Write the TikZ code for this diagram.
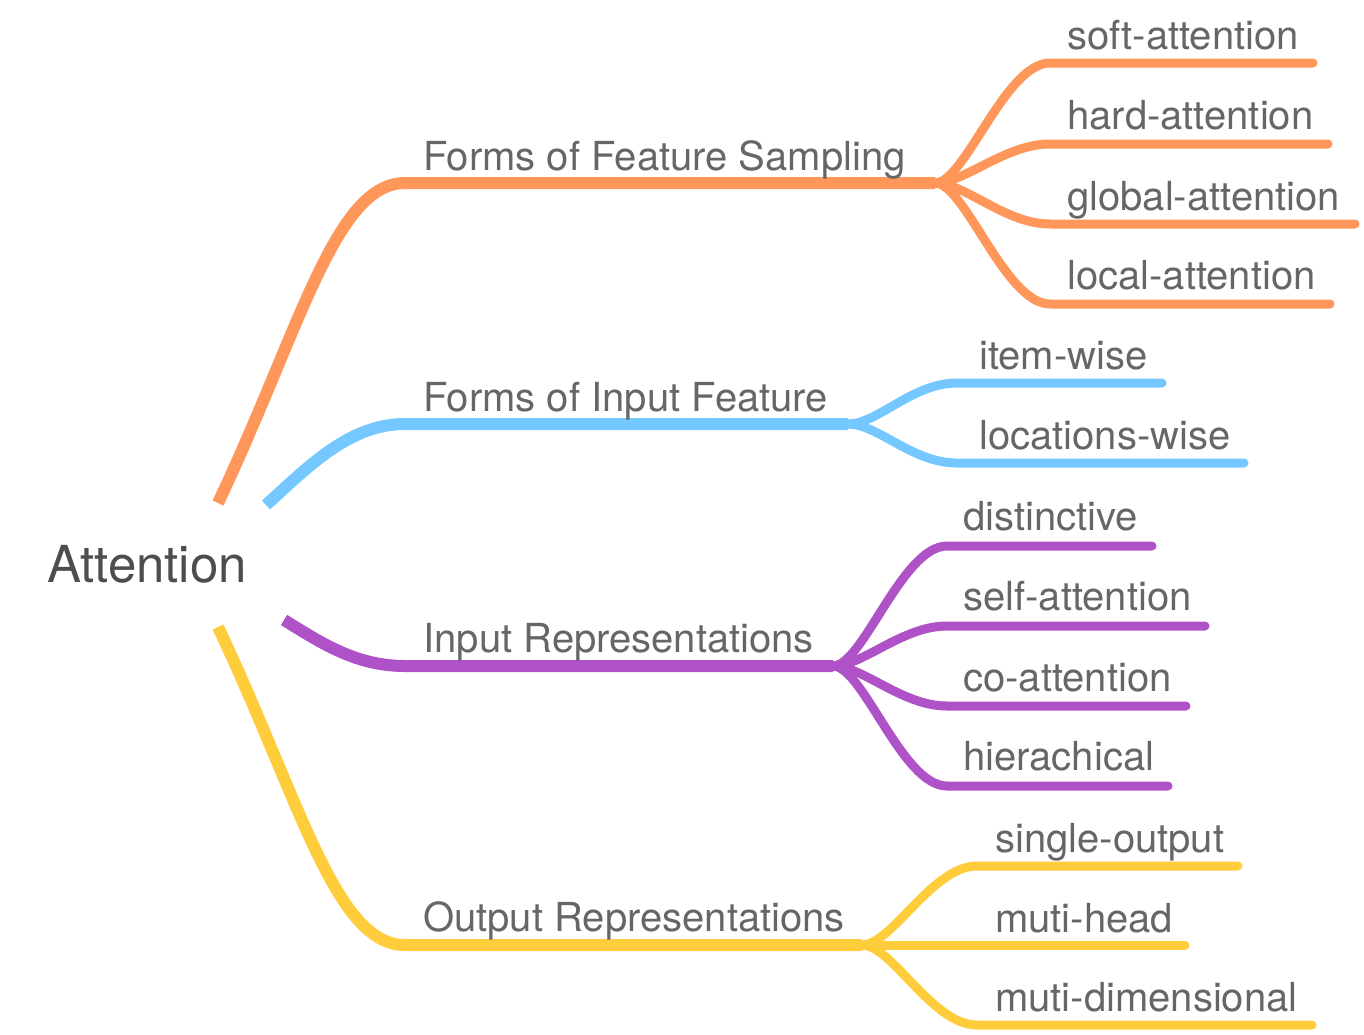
\documentclass[tikz,border=0pt]{standalone}
\usepackage{fontspec}
\setmainfont{TeX Gyre Heros}
\usetikzlibrary{calc}
\definecolor{corange}{HTML}{FF965A}
\definecolor{cblue}{HTML}{74C8FF}
\definecolor{cpurple}{HTML}{AF52C8}
\definecolor{cyellow}{HTML}{FFCC3C}
\definecolor{rootgray}{HTML}{4D4D4D}
\definecolor{txtgray}{HTML}{666666}
\begin{document}
\begin{tikzpicture}[x=1pt,y=-1pt,
  roottext/.style={anchor=base west, inner sep=0pt, text=rootgray, font=\fontsize{51}{60}\selectfont},
  lvtext/.style={anchor=base west, inner sep=0pt, text=txtgray, font=\fontsize{40}{47}\selectfont},
  mainbranch/.style={line width=12pt, line cap=butt},
  subbranch/.style={line width=9pt, line cap=round},
  branch/.style={to path={.. controls ($(\tikztostart)+(30,0)$) and ($(\tikztotarget)-(45,0)$) .. (\tikztotarget)}},
]
\fill[white] (0,0) rectangle (1364,1034);
\useasboundingbox (0,0) rectangle (1364,1034);

% root
\node[roottext] (root) at (47,582) {Attention};

% ---------- orange ----------
\coordinate (oS) at (218,503);
\coordinate (oH) at (405,183);
\coordinate (oF) at (935,183);
\draw[mainbranch, corange] (oS) .. controls (300,330) and (335,183) .. (oH) -- (oF);
\node[lvtext] (oT) at (423,170) {Forms of Feature Sampling};

\coordinate (o1) at (1050,63);  \coordinate (o1e) at (1313,63);
\coordinate (o2) at (1050,144); \coordinate (o2e) at (1328,144);
\coordinate (o3) at (1050,224); \coordinate (o3e) at (1355,224);
\coordinate (o4) at (1050,304); \coordinate (o4e) at (1330,304);
\draw[subbranch, corange, branch] (oF) to (o1) -- (o1e);
\draw[subbranch, corange, branch] (oF) to (o2) -- (o2e);
\draw[subbranch, corange, branch] (oF) to (o3) -- (o3e);
\draw[subbranch, corange, branch] (oF) to (o4) -- (o4e);
\node[lvtext] (o1t) at (1067,49)  {soft-attention};
\node[lvtext] (o2t) at (1067,129) {hard-attention};
\node[lvtext] (o3t) at (1067,210) {global-attention};
\node[lvtext] (o4t) at (1067,289) {local-attention};

% ---------- blue ----------
\coordinate (bS) at (266,505);
\coordinate (bH) at (405,424);
\coordinate (bF) at (848,424);
\draw[mainbranch, cblue] (bS) .. controls (310,465) and (350,424) .. (bH) -- (bF);
\node[lvtext] (bT) at (423,411) {Forms of Input Feature};

\coordinate (b1) at (957,383); \coordinate (b1e) at (1162,383);
\coordinate (b2) at (957,463); \coordinate (b2e) at (1244,463);
\draw[subbranch, cblue, branch] (bF) to (b1) -- (b1e);
\draw[subbranch, cblue, branch] (bF) to (b2) -- (b2e);
\node[lvtext] (b1t) at (979,369) {item-wise};
\node[lvtext] (b2t) at (979,449) {locations-wise};

% ---------- purple ----------
\coordinate (pS) at (284,620);
\coordinate (pH) at (405,666);
\coordinate (pF) at (833,666);
\draw[mainbranch, cpurple] (pS) .. controls (320,642) and (355,666) .. (pH) -- (pF);
\node[lvtext] (pT) at (423,652) {Input Representations};

\coordinate (p1) at (947,546); \coordinate (p1e) at (1152,546);
\coordinate (p2) at (947,626); \coordinate (p2e) at (1205,626);
\coordinate (p3) at (947,706); \coordinate (p3e) at (1186,706);
\coordinate (p4) at (947,786); \coordinate (p4e) at (1168,786);
\draw[subbranch, cpurple, branch] (pF) to (p1) -- (p1e);
\draw[subbranch, cpurple, branch] (pF) to (p2) -- (p2e);
\draw[subbranch, cpurple, branch] (pF) to (p3) -- (p3e);
\draw[subbranch, cpurple, branch] (pF) to (p4) -- (p4e);
\node[lvtext] (p1t) at (963,530) {distinctive};
\node[lvtext] (p2t) at (963,610) {self-attention};
\node[lvtext] (p3t) at (963,691) {co-attention};
\node[lvtext] (p4t) at (963,770) {hierachical};

% ---------- yellow ----------
\coordinate (yS) at (218,627);
\coordinate (yH) at (405,945);
\coordinate (yF) at (862,945);
\draw[mainbranch, cyellow] (yS) .. controls (300,800) and (335,945) .. (yH) -- (yF);
\node[lvtext] (yT) at (423,931) {Output Representations};

\coordinate (y1) at (977,866);  \coordinate (y1e) at (1238,866);
\coordinate (y2) at (977,945);  \coordinate (y2e) at (1185,945);
\coordinate (y3) at (977,1025); \coordinate (y3e) at (1312,1025);
\draw[subbranch, cyellow, branch] (yF) to (y1) -- (y1e);
\draw[subbranch, cyellow] (yF) -- (y2e);
\draw[subbranch, cyellow, branch] (yF) to (y3) -- (y3e);
\node[lvtext] (y1t) at (995,852)  {single-output};
\node[lvtext] (y2t) at (995,932)  {muti-head};
\node[lvtext] (y3t) at (995,1011) {muti-dimensional};
\end{tikzpicture}
\end{document}
